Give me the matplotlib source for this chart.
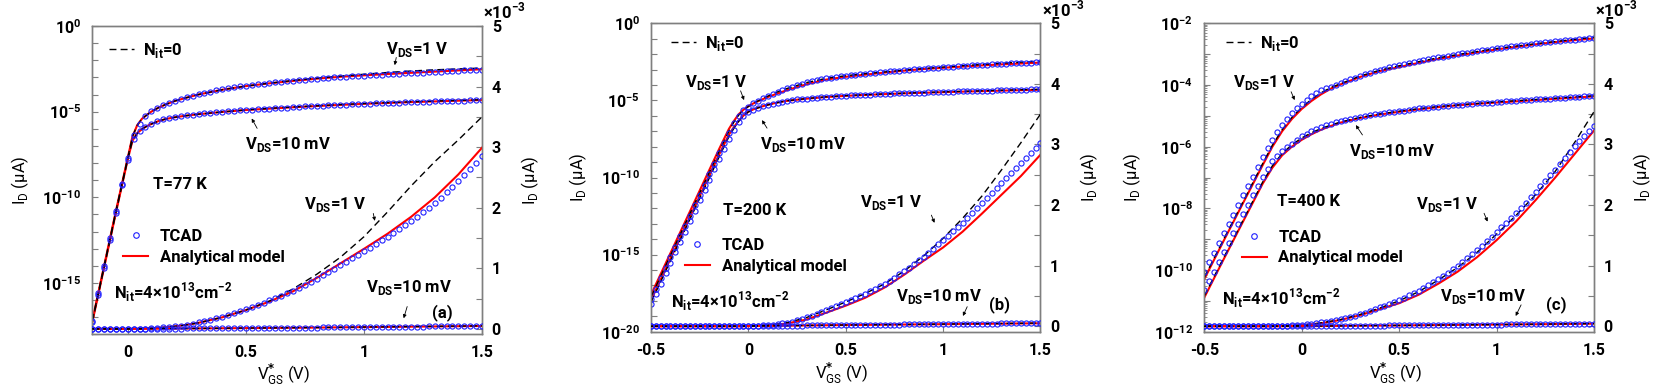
import numpy as np
import matplotlib
matplotlib.use("Agg")
import matplotlib.pyplot as plt
from matplotlib.lines import Line2D
from matplotlib.ticker import NullLocator, NullFormatter, LogLocator

plt.rcParams["font.family"] = ["Roboto", "DejaVu Sans"]
plt.rcParams["font.weight"] = "bold"
plt.rcParams["font.size"] = 12
plt.rcParams["axes.unicode_minus"] = False

# ---------------- data (I_D in uA) ----------------
# TCAD sweep, step 25 mV
vg_a = np.linspace(-0.15, 1.5, 67)
vg_bc = np.linspace(-0.5, 1.5, 81)

# T = 77 K
tcad_a_1v = [6.3e-18, 2.5e-16, 1.0e-14, 4.0e-13, 1.6e-11, 6.3e-10, 2.0e-8, 4.5e-7, 2.0e-6, 5.6e-6,
             1.07e-5, 1.66e-5, 2.4e-5, 3.24e-5, 4.27e-5, 5.4e-5, 6.8e-5, 8.5e-5, 1.05e-4, 1.26e-4,
             1.48e-4, 1.74e-4, 2.00e-4, 2.31e-4, 2.63e-4, 2.96e-4, 3.30e-4, 3.64e-4, 3.99e-4, 4.34e-4,
             4.70e-4, 5.09e-4, 5.48e-4, 5.89e-4, 6.30e-4, 6.78e-4, 7.27e-4, 7.78e-4, 8.30e-4, 8.84e-4,
             9.39e-4, 9.94e-4, 1.050e-3, 1.107e-3, 1.164e-3, 1.222e-3, 1.280e-3, 1.339e-3, 1.399e-3,
             1.459e-3, 1.520e-3, 1.583e-3, 1.647e-3, 1.713e-3, 1.780e-3, 1.852e-3, 1.925e-3, 2.001e-3,
             2.080e-3, 2.166e-3, 2.255e-3, 2.346e-3, 2.440e-3, 2.540e-3, 2.643e-3, 2.746e-3, 2.850e-3]
tcad_a_10mv = [5.0e-18, 2.0e-16, 7.9e-15, 3.2e-13, 1.26e-11, 5.0e-10, 1.6e-8, 2.5e-7, 7.1e-7, 1.32e-6,
               2.0e-6, 2.8e-6, 3.5e-6, 4.2e-6, 4.8e-6, 5.4e-6, 6.0e-6, 6.6e-6, 7.2e-6, 7.9e-6,
               8.5e-6, 9.1e-6, 9.8e-6, 1.05e-5, 1.12e-5, 1.17e-5, 1.26e-5, 1.32e-5, 1.38e-5, 1.45e-5,
               1.51e-5, 1.58e-5, 1.66e-5, 1.74e-5, 1.82e-5, 1.91e-5, 2.0e-5, 2.09e-5, 2.14e-5, 2.24e-5,
               2.34e-5, 2.40e-5, 2.51e-5, 2.57e-5, 2.69e-5, 2.75e-5, 2.88e-5, 2.95e-5, 3.02e-5, 3.16e-5,
               3.24e-5, 3.31e-5, 3.39e-5, 3.55e-5, 3.63e-5, 3.72e-5, 3.80e-5, 3.89e-5, 3.98e-5, 4.07e-5,
               4.17e-5, 4.27e-5, 4.37e-5, 4.47e-5, 4.57e-5, 4.68e-5, 4.79e-5]
vl_a = [-0.15, -0.1, -0.05, 0.0, 0.02, 0.04, 0.06, 0.08, 0.1, 0.13, 0.16, 0.2, 0.25, 0.3,
        0.4, 0.5, 0.6, 0.7, 0.8, 0.9, 1.0, 1.1, 1.2, 1.3, 1.4, 1.5]
model_a_1v = [6.3e-18, 1.0e-14, 1.6e-11, 2.0e-8, 3.5e-7, 1.6e-6, 3.8e-6, 6.3e-6, 1.0e-5, 1.7e-5,
              2.6e-5, 4.2e-5, 6.6e-5, 1.0e-4, 1.9e-4, 3.1e-4, 4.5e-4, 6.2e-4, 8.4e-4, 1.08e-3,
              1.32e-3, 1.57e-3, 1.85e-3, 2.17e-3, 2.55e-3, 2.99e-3]
model_a_10mv = [5.0e-18, 7.9e-15, 1.26e-11, 1.6e-8, 2.0e-7, 5.5e-7, 9.5e-7, 1.4e-6, 1.9e-6, 2.8e-6,
                3.7e-6, 4.7e-6, 5.9e-6, 7.1e-6, 9.6e-6, 1.24e-5, 1.5e-5, 1.8e-5, 2.12e-5, 2.48e-5,
                2.85e-5, 3.2e-5, 3.6e-5, 3.95e-5, 4.35e-5, 4.75e-5]
nit0_a_1v = [6.3e-18, 1.0e-14, 1.6e-11, 2.0e-8, 3.5e-7, 1.6e-6, 3.8e-6, 6.3e-6, 1.0e-5, 1.7e-5,
             2.6e-5, 4.2e-5, 6.6e-5, 1.0e-4, 1.9e-4, 3.1e-4, 4.6e-4, 6.6e-4, 9.0e-4, 1.18e-3,
             1.52e-3, 1.93e-3, 2.36e-3, 2.76e-3, 3.12e-3, 3.50e-3]
nit0_a_10mv = [5.0e-18, 7.9e-15, 1.26e-11, 1.6e-8, 2.0e-7, 5.5e-7, 9.5e-7, 1.4e-6, 1.9e-6, 2.8e-6,
               3.7e-6, 4.7e-6, 5.9e-6, 7.1e-6, 9.6e-6, 1.26e-5, 1.55e-5, 1.87e-5, 2.2e-5, 2.58e-5,
               2.97e-5, 3.35e-5, 3.75e-5, 4.15e-5, 4.55e-5, 4.95e-5]

# T = 200 K
tcad_b_1v = [1.35e-18, 6.3e-18, 3.0e-17, 1.41e-16, 6.8e-16, 3.16e-15, 1.51e-14, 7.1e-14, 3.4e-13, 1.58e-12,
             7.6e-12, 3.5e-11, 1.7e-10, 7.9e-10, 3.8e-9, 1.78e-8, 7.9e-8, 3.2e-7, 1.0e-6, 2.24e-6,
             3.98e-6, 6.3e-6, 9.3e-6, 1.35e-5, 1.9e-5, 2.63e-5, 3.55e-5, 4.7e-5, 6.0e-5, 7.6e-5,
             9.5e-5, 1.17e-4, 1.45e-4, 1.70e-4, 2.0e-4, 2.34e-4, 2.70e-4, 3.01e-4, 3.33e-4, 3.66e-4,
             4.00e-4, 4.34e-4, 4.69e-4, 5.04e-4, 5.40e-4, 5.78e-4, 6.17e-4, 6.58e-4, 7.00e-4, 7.50e-4,
             8.01e-4, 8.55e-4, 9.10e-4, 9.68e-4, 1.028e-3, 1.089e-3, 1.150e-3, 1.216e-3, 1.283e-3,
             1.351e-3, 1.420e-3, 1.492e-3, 1.565e-3, 1.637e-3, 1.710e-3, 1.789e-3, 1.869e-3, 1.949e-3,
             2.030e-3, 2.112e-3, 2.195e-3, 2.277e-3, 2.360e-3, 2.445e-3, 2.530e-3, 2.615e-3, 2.700e-3,
             2.782e-3, 2.865e-3, 2.947e-3, 3.030e-3]
tcad_b_10mv = [5.9e-19, 2.75e-18, 1.32e-17, 6.2e-17, 2.95e-16, 1.38e-15, 6.6e-15, 3.1e-14, 1.48e-13, 6.9e-13,
               3.3e-12, 1.55e-11, 7.4e-11, 3.5e-10, 1.58e-9, 7.4e-9, 3.2e-8, 1.26e-7, 4.0e-7, 1.0e-6,
               1.78e-6, 2.5e-6, 3.3e-6, 4.2e-6, 5.1e-6, 6.2e-6, 7.2e-6, 8.3e-6, 9.5e-6, 1.07e-5,
               1.15e-5, 1.23e-5, 1.32e-5, 1.41e-5, 1.51e-5, 1.58e-5, 1.70e-5, 1.78e-5, 1.86e-5, 1.95e-5,
               2.04e-5, 2.09e-5, 2.19e-5, 2.24e-5, 2.34e-5, 2.40e-5, 2.51e-5, 2.57e-5, 2.63e-5, 2.75e-5,
               2.82e-5, 2.88e-5, 2.95e-5, 3.02e-5, 3.09e-5, 3.16e-5, 3.24e-5, 3.31e-5, 3.39e-5, 3.47e-5,
               3.55e-5, 3.63e-5, 3.72e-5, 3.80e-5, 3.89e-5, 3.98e-5, 4.07e-5, 4.12e-5, 4.17e-5, 4.27e-5,
               4.37e-5, 4.47e-5, 4.57e-5, 4.68e-5, 4.79e-5, 4.84e-5, 4.90e-5, 5.01e-5, 5.13e-5, 5.19e-5,
               5.25e-5]
vl_b = [-0.5, -0.4, -0.3, -0.2, -0.15, -0.1, -0.075, -0.05, -0.025, 0.0, 0.025, 0.05, 0.1, 0.15,
        0.2, 0.3, 0.4, 0.5, 0.6, 0.7, 0.8, 0.9, 1.0, 1.1, 1.2, 1.3, 1.4, 1.5]
model_b_1v = [2.5e-18, 1.26e-15, 6.3e-13, 3.2e-10, 7.1e-9, 1.41e-7, 4.5e-7, 1.26e-6, 2.5e-6, 4.2e-6,
              6.3e-6, 8.9e-6, 1.66e-5, 2.8e-5, 4.7e-5, 1.12e-4, 2.24e-4, 3.4e-4, 4.7e-4, 6.4e-4,
              8.5e-4, 1.08e-3, 1.30e-3, 1.56e-3, 1.86e-3, 2.17e-3, 2.48e-3, 2.83e-3]
model_b_10mv = [1.1e-18, 5.5e-16, 2.75e-13, 1.4e-10, 3.1e-9, 6.0e-8, 1.8e-7, 4.8e-7, 1.05e-6, 1.85e-6,
                2.6e-6, 3.4e-6, 5.2e-6, 7.3e-6, 9.4e-6, 1.3e-5, 1.65e-5, 1.98e-5, 2.25e-5, 2.55e-5,
                2.85e-5, 3.12e-5, 3.4e-5, 3.7e-5, 3.97e-5, 4.3e-5, 4.6e-5, 4.9e-5]
nit0_b_1v = [1.8e-18, 9.0e-16, 4.5e-13, 2.2e-10, 5.0e-9, 1.0e-7, 3.8e-7, 1.1e-6, 2.3e-6, 4.0e-6,
             6.3e-6, 9.3e-6, 1.9e-5, 3.55e-5, 6.0e-5, 1.45e-4, 2.7e-4, 4.0e-4, 5.4e-4, 7.0e-4,
             9.1e-4, 1.16e-3, 1.45e-3, 1.78e-3, 2.15e-3, 2.58e-3, 3.03e-3, 3.50e-3]
nit0_b_10mv = [7.9e-19, 4.0e-16, 2.0e-13, 9.6e-11, 2.2e-9, 4.4e-8, 1.5e-7, 4.3e-7, 1.0e-6, 1.8e-6,
               2.5e-6, 3.3e-6, 5.1e-6, 7.2e-6, 9.5e-6, 1.32e-5, 1.7e-5, 2.04e-5, 2.34e-5, 2.63e-5,
               2.95e-5, 3.24e-5, 3.55e-5, 3.89e-5, 4.17e-5, 4.57e-5, 4.9e-5, 5.25e-5]

# T = 400 K
tcad_c_1v = [8.9e-11, 1.78e-10, 3.55e-10, 7.6e-10, 1.58e-9, 3.0e-9, 6.0e-9, 1.26e-8, 2.63e-8, 5.25e-8,
             1.05e-7, 2.19e-7, 4.47e-7, 8.9e-7, 1.66e-6, 3.0e-6, 5.0e-6, 8.1e-6, 1.26e-5, 1.82e-5,
             2.5e-5, 3.3e-5, 4.27e-5, 5.4e-5, 6.8e-5, 7.8e-5, 8.9e-5, 1.0e-4, 1.15e-4, 1.32e-4,
             1.51e-4, 1.74e-4, 2.0e-4, 2.24e-4, 2.51e-4, 2.82e-4, 3.1e-4, 3.4e-4, 3.7e-4, 4.07e-4,
             4.4e-4, 4.7e-4, 5.1e-4, 5.5e-4, 5.9e-4, 6.35e-4, 6.8e-4, 7.3e-4, 7.8e-4, 8.3e-4,
             8.85e-4, 9.4e-4, 1.0e-3, 1.06e-3, 1.12e-3, 1.19e-3, 1.26e-3, 1.33e-3, 1.40e-3, 1.475e-3,
             1.55e-3, 1.63e-3, 1.71e-3, 1.79e-3, 1.87e-3, 1.95e-3, 2.04e-3, 2.13e-3, 2.22e-3, 2.31e-3,
             2.40e-3, 2.49e-3, 2.58e-3, 2.68e-3, 2.78e-3, 2.88e-3, 2.98e-3, 3.06e-3, 3.14e-3, 3.22e-3,
             3.30e-3]
tcad_c_10mv = [2.24e-11, 4.47e-11, 8.9e-11, 1.86e-10, 3.8e-10, 7.6e-10, 1.58e-9, 3.16e-9, 6.6e-9, 1.32e-8,
               2.63e-8, 5.25e-8, 1.05e-7, 1.91e-7, 3.31e-7, 5.0e-7, 7.1e-7, 9.5e-7, 1.26e-6, 1.66e-6,
               2.14e-6, 2.63e-6, 3.16e-6, 3.72e-6, 4.27e-6, 4.9e-6, 5.5e-6, 6.2e-6, 6.8e-6, 7.4e-6,
               8.1e-6, 8.7e-6, 9.3e-6, 1.0e-5, 1.07e-5, 1.12e-5, 1.17e-5, 1.23e-5, 1.29e-5, 1.35e-5,
               1.41e-5, 1.48e-5, 1.55e-5, 1.66e-5, 1.74e-5, 1.78e-5, 1.86e-5, 1.91e-5, 2.0e-5, 2.04e-5,
               2.09e-5, 2.19e-5, 2.24e-5, 2.29e-5, 2.40e-5, 2.45e-5, 2.51e-5, 2.57e-5, 2.63e-5, 2.69e-5,
               2.82e-5, 2.88e-5, 2.95e-5, 3.02e-5, 3.09e-5, 3.16e-5, 3.24e-5, 3.31e-5, 3.39e-5, 3.47e-5,
               3.55e-5, 3.63e-5, 3.72e-5, 3.80e-5, 3.89e-5, 3.98e-5, 4.07e-5, 4.17e-5, 4.27e-5, 4.37e-5,
               4.47e-5]
vl_c = [-0.5, -0.4, -0.3, -0.2, -0.15, -0.1, -0.05, 0.0, 0.05, 0.1, 0.15, 0.2, 0.3, 0.4,
        0.5, 0.6, 0.7, 0.8, 0.9, 1.0, 1.1, 1.2, 1.3, 1.4, 1.5]
model_c_1v = [5.0e-11, 8.9e-10, 1.51e-8, 2.51e-7, 1.0e-6, 3.16e-6, 7.9e-6, 1.66e-5, 3.02e-5, 5.0e-5,
              7.6e-5, 1.05e-4, 1.82e-4, 2.82e-4, 3.8e-4, 5.2e-4, 7.0e-4, 9.0e-4, 1.14e-3, 1.42e-3,
              1.73e-3, 2.08e-3, 2.45e-3, 2.84e-3, 3.23e-3]
model_c_10mv = [1.26e-11, 2.24e-10, 3.8e-9, 6.3e-8, 2.09e-7, 5.25e-7, 1.0e-6, 1.66e-6, 2.51e-6, 3.55e-6,
                4.68e-6, 6.03e-6, 8.5e-6, 1.1e-5, 1.35e-5, 1.62e-5, 1.91e-5, 2.19e-5, 2.45e-5, 2.69e-5,
                2.95e-5, 3.24e-5, 3.55e-5, 3.89e-5, 4.27e-5]
nit0_c_1v = [5.6e-11, 1.0e-9, 1.66e-8, 2.82e-7, 1.12e-6, 3.55e-6, 8.9e-6, 1.86e-5, 3.39e-5, 5.6e-5,
             8.3e-5, 1.1e-4, 1.95e-4, 3.0e-4, 4.2e-4, 5.7e-4, 7.6e-4, 9.7e-4, 1.22e-3, 1.52e-3,
             1.83e-3, 2.17e-3, 2.55e-3, 3.03e-3, 3.54e-3]
nit0_c_10mv = [1.41e-11, 2.51e-10, 4.17e-9, 7.1e-8, 2.4e-7, 6.03e-7, 1.15e-6, 1.91e-6, 2.82e-6, 3.89e-6,
               5.0e-6, 6.3e-6, 8.9e-6, 1.15e-5, 1.41e-5, 1.7e-5, 2.0e-5, 2.24e-5, 2.51e-5, 2.82e-5,
               3.09e-5, 3.39e-5, 3.72e-5, 4.07e-5, 4.47e-5]

BLUE = "#1f1fff"
GRAY = "#7f7f7f"
DASH = (0, (5, 3))
TICK_FS = 11.5
TXT_FS = 12

fig = plt.figure(figsize=(16.61, 3.88), dpi=100)


def panel(rect, xlim, xticks, xlabels, decades, labelled, vg, t1, t10, vl, m1, m10, k1, k10,
          xlab_y=-0.098, dense_minor=False):
    ax = fig.add_axes(rect)
    ax2 = ax.twinx()
    for a in (ax, ax2):
        a.plot(vl, m1, color="red", lw=1.5, zorder=2)
        a.plot(vl, m10, color="red", lw=1.5, zorder=2)
        a.plot(vl, k1, color="black", lw=1.0, ls=DASH, zorder=3)
        a.plot(vl, k10, color="black", lw=1.0, ls=DASH, zorder=3)
        a.plot(vg, t1, ls="none", marker="o", ms=3.7, mfc="none", mec=BLUE, mew=0.8, zorder=4)
        a.plot(vg, t10, ls="none", marker="o", ms=3.7, mfc="none", mec=BLUE, mew=0.8, zorder=4)

    ax.set_yscale("log")
    ax.set_xlim(xlim)
    ax.set_ylim(10.0 ** decades[0], 10.0 ** decades[-1])
    ax.set_yticks([10.0 ** k for k in decades])
    ax.set_yticklabels([r"$\mathregular{10^{%d}}$" % k if k in labelled else "" for k in decades])
    if dense_minor:
        ax.yaxis.set_minor_locator(LogLocator(base=10, subs=np.arange(2, 10), numticks=100))
    else:
        ax.yaxis.set_minor_locator(NullLocator())
    ax.yaxis.set_minor_formatter(NullFormatter())
    ax.set_xticks(xticks)
    ax.set_xticklabels(xlabels)

    ax2.set_ylim(-0.09e-3, 5.0e-3)
    ax2.set_yticks([0, 1e-3, 2e-3, 3e-3, 4e-3, 5e-3])
    ax2.set_yticklabels(["0", "1", "2", "3", "4", "5"])
    ax2.set_yticks([0.5e-3, 1.5e-3, 2.5e-3, 3.5e-3, 4.5e-3], minor=True)

    ax.tick_params(axis="both", which="major", direction="in", length=4, width=0.8, color=GRAY,
                   labelsize=TICK_FS, pad=8, top=False, right=False)
    ax.tick_params(axis="y", which="minor", direction="in", length=2, width=0.6, color=GRAY)
    ax2.tick_params(axis="y", which="both", direction="in", length=4, width=0.8, color=GRAY,
                    labelsize=TICK_FS, pad=7)
    for a in (ax, ax2):
        for sp in a.spines.values():
            sp.set_color(GRAY)
            sp.set_linewidth(1.0)

    ax.set_xlabel(r"V$^{*}_{\mathregular{GS}}$ (V)", fontsize=TXT_FS)
    ax.xaxis.set_label_coords(0.49, xlab_y)
    ax.set_ylabel(r"I$_{\mathregular{D}}$ (µA)", fontsize=TXT_FS)
    ax.yaxis.set_label_coords(-0.158, 0.5)
    ax2.set_ylabel(r"I$_{\mathregular{D}}$ (µA)", fontsize=TXT_FS)
    ax2.yaxis.set_label_coords(1.097, 0.5)
    ax2.annotate(r"×10$^{\mathregular{-3}}$", xy=(1.0, 1.0), xycoords="axes fraction",
                 xytext=(1, 3), textcoords="offset points", ha="left", va="bottom", fontsize=TXT_FS)
    return ax, ax2


def decorate(ax2, nit0_pos, leg_pos, texts, arrows):
    h1 = Line2D([], [], color="black", lw=1.0, ls=DASH)
    leg1 = ax2.legend([h1], [r"N$_{\mathregular{it}}$=0"], loc="center left", bbox_to_anchor=nit0_pos,
                      frameon=False, handlelength=1.5, handletextpad=0.55, borderpad=0, borderaxespad=0,
                      fontsize=TXT_FS)
    ax2.add_artist(leg1)
    h2 = Line2D([], [], ls="none", marker="o", ms=4, mfc="none", mec=BLUE, mew=0.8)
    h3 = Line2D([], [], color="red", lw=1.5)
    ax2.legend([h2, h3], ["TCAD", "Analytical model"], loc="center left", bbox_to_anchor=leg_pos,
               frameon=False, handlelength=1.5, handletextpad=0.7, labelspacing=0.35,
               borderpad=0, borderaxespad=0, fontsize=TXT_FS)
    for s, x, y in texts:
        ax2.text(x, y - 0.018, s, transform=ax2.transAxes, ha="left", va="baseline", fontsize=TXT_FS)
    for tail, head in arrows:
        ax2.annotate("", xy=head, xytext=tail, xycoords="axes fraction",
                     arrowprops=dict(arrowstyle="-|>", lw=0.6, color="black", mutation_scale=5,
                                     shrinkA=0, shrinkB=0))


VDS1 = r"V$_{\mathregular{DS}}$=1 V"
VDS10 = r"V$_{\mathregular{DS}}$=10 mV"
NIT = r"N$_{\mathregular{it}}$=4×10$^{\mathregular{13}}$cm$^{\mathregular{-2}}$"

# (a) 77 K
ax_a, ax2_a = panel([0.05557, 0.1384, 0.23462, 0.79459], (-0.15, 1.5), [0, 0.5, 1, 1.5],
                    ["0", "0.5", "1", "1.5"], list(range(-18, 1)), [0, -5, -10, -15],
                    vg_a, tcad_a_1v, tcad_a_10mv, vl_a, model_a_1v, model_a_10mv, nit0_a_1v, nit0_a_10mv,
                    xlab_y=-0.088)
decorate(ax2_a, (0.043, 0.92), (0.079, 0.284),
         [(VDS1, 0.753, 0.928), (VDS10, 0.391, 0.619), ("T=77 K", 0.157, 0.49),
          (VDS1, 0.542, 0.425), (NIT, 0.056, 0.133), (VDS10, 0.702, 0.154), ("(a)", 0.872, 0.073)],
         [((0.780, 0.898), (0.776, 0.873)), ((0.423, 0.668), (0.409, 0.70)),
          ((0.721, 0.392), (0.725, 0.368)), ((0.808, 0.09), (0.799, 0.052))])

# (b) 200 K
xt_bc = [-0.5, 0, 0.5, 1, 1.5]
xl_bc = ["-0.5", "0", "0.5", "1", "1.5"]
ax_b, ax2_b = panel([0.39194, 0.1451, 0.23444, 0.79485], (-0.5, 1.5), xt_bc, xl_bc,
                    list(range(-20, 1)), [0, -5, -10, -15, -20],
                    vg_bc, tcad_b_1v, tcad_b_10mv, vl_b, model_b_1v, model_b_10mv, nit0_b_1v, nit0_b_10mv,
                    xlab_y=-0.096)
decorate(ax2_b, (0.051, 0.935), (0.087, 0.245),
         [(VDS1, 0.087, 0.811), (VDS10, 0.280, 0.611), ("T=200 K", 0.184, 0.395),
          (VDS1, 0.537, 0.422), (NIT, 0.051, 0.097), (VDS10, 0.628, 0.119), ("(b)", 0.867, 0.09)],
         [((0.230, 0.781), (0.239, 0.751)), ((0.298, 0.66), (0.285, 0.686)),
          ((0.72, 0.378), (0.728, 0.353)), ((0.812, 0.081), (0.801, 0.051))])

# (c) 400 K
ax_c, ax2_c = panel([0.72498, 0.1451, 0.23468, 0.79485], (-0.5, 1.5), xt_bc, xl_bc,
                    list(range(-12, -1)), [-2, -4, -6, -8, -10, -12],
                    vg_bc, tcad_c_1v, tcad_c_10mv, vl_c, model_c_1v, model_c_10mv, nit0_c_1v, nit0_c_10mv,
                    xlab_y=-0.096, dense_minor=True)
decorate(ax2_c, (0.056, 0.935), (0.096, 0.273),
         [(VDS1, 0.074, 0.811), (VDS10, 0.371, 0.589), ("T=400 K", 0.186, 0.427),
          (VDS1, 0.543, 0.416), (NIT, 0.045, 0.108), (VDS10, 0.606, 0.119), ("(c)", 0.876, 0.09)],
         [((0.223, 0.778), (0.232, 0.751)), ((0.406, 0.638), (0.389, 0.67)),
          ((0.718, 0.384), (0.727, 0.357)), ((0.813, 0.087), (0.799, 0.051))])

fig.savefig("out.png", dpi=100)
